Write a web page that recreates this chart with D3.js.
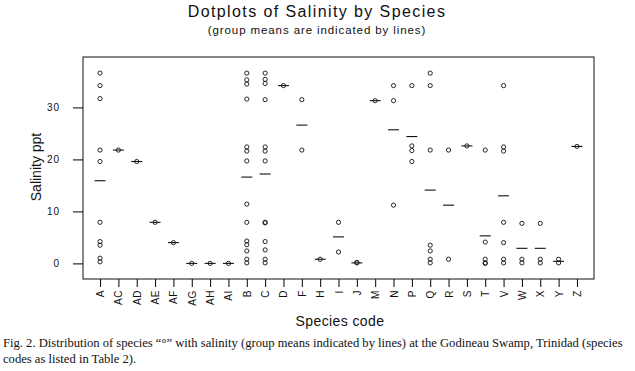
<!DOCTYPE html>
<html>
<head>
<meta charset="utf-8">
<script src="https://cdn.jsdelivr.net/npm/d3@7"></script>
<style>
  body { margin: 0; background: #fff; }
  svg { display: block; }
  text { font-family: "Liberation Sans", Arial, sans-serif; fill: #111; }
  .caption { font-family: "Liberation Serif", "Times New Roman", serif; }
</style>
</head>
<body>
<div id="chart"></div>
<script>
// Species codes on the x axis
var species = ["A","AC","AD","AE","AF","AG","AH","AI","B","C","D","F","H","I","J",
               "M","N","P","Q","R","S","T","V","W","X","Y","Z"]

// Salinity readings (ppt) for each species, same order as above
var salinity = [
  [36.6, 34.2, 31.7, 21.8, 19.6, 7.9, 4.2, 3.5, 1.0, 0.3],          // A
  [21.8],                                                            // AC
  [19.6],                                                            // AD
  [7.9],                                                             // AE
  [4.0],                                                             // AF
  [0.0],                                                             // AG
  [0.0],                                                             // AH
  [0.0],                                                             // AI
  [36.6, 35.3, 34.5, 31.6, 22.4, 21.6, 19.7, 11.4, 7.9, 4.3, 3.6, 2.4, 0.8, 0.1], // B
  [36.6, 35.4, 34.6, 31.5, 22.4, 21.6, 19.7, 7.9, 7.8, 4.2, 2.6, 0.8, 0.1],       // C
  [34.2],                                                            // D
  [31.5, 21.8],                                                      // F
  [0.8],                                                             // H
  [7.9, 2.2],                                                        // I
  [0.2, 0.1],                                                        // J
  [31.3],                                                            // M
  [34.2, 31.3, 11.2],                                                // N
  [34.2, 22.6, 21.7, 19.6],                                          // P
  [36.6, 34.2, 21.8, 3.5, 2.4, 0.8, 0.1],                            // Q
  [21.8, 0.8],                                                       // R
  [22.6],                                                            // S
  [21.8, 4.1, 0.8, 0.1, 0.0],                                        // T
  [34.2, 22.4, 21.6, 7.9, 4.0, 0.8, 0.1],                            // V
  [7.7, 0.8, 0.1],                                                   // W
  [7.7, 0.8, 0.1],                                                   // X
  [0.8, 0.1],                                                        // Y
  [22.5]                                                             // Z
]

// Group means as drawn by the short horizontal lines
var groupMeans = [15.9, 21.8, 19.6, 7.9, 4.0, 0.0, 0.0, 0.0, 16.6, 17.2, 34.2, 26.6, 0.8, 5.1, 0.1,
                  31.3, 25.7, 24.4, 14.1, 11.2, 22.6, 5.3, 13.0, 2.9, 2.9, 0.4, 22.5]

var yTicks = [0, 10, 20, 30]

var width = 635, height = 371
var plot = {left: 83, right: 594, top: 57, bottom: 279}

var svg = d3.select('#chart').append('svg')
  .attr('width', width)
  .attr('height', height)

// Scales
var xScale = d3.scalePoint()
  .domain(species)
  .range([plot.left, plot.right])
  .padding(0.93)

var yScale = d3.scaleLinear()
  .domain([-3.0, 39.7])
  .range([plot.bottom, plot.top])

// Titles
svg.append('text')
  .attr('x', 317).attr('y', 17)
  .attr('text-anchor', 'middle')
  .style('font-size', '16px')
  .style('letter-spacing', '1.4px')
  .text('Dotplots of Salinity by Species')

svg.append('text')
  .attr('x', 317).attr('y', 34)
  .attr('text-anchor', 'middle')
  .style('font-size', '11.5px')
  .style('letter-spacing', '0.9px')
  .text('(group means are indicated by lines)')

// Frame
svg.append('rect')
  .attr('x', plot.left).attr('y', plot.top)
  .attr('width', plot.right - plot.left)
  .attr('height', plot.bottom - plot.top)
  .attr('fill', 'none')
  .attr('stroke', '#111')
  .attr('stroke-width', 1)

// Y axis
var yAxis = svg.append('g')
  .attr('transform', 'translate(' + plot.left + ',0)')
  .call(d3.axisLeft(yScale).tickValues(yTicks).tickSize(10).tickPadding(13))
yAxis.select('.domain').remove()
yAxis.selectAll('text').style('font-size', '10px').style('letter-spacing', '1px')
  .style('font-family', '"Liberation Sans", Arial, sans-serif')

// X axis with vertical labels
var xAxis = svg.append('g')
  .attr('transform', 'translate(0,' + plot.bottom + ')')
  .call(d3.axisBottom(xScale).tickSize(8))
xAxis.select('.domain').remove()
xAxis.selectAll('text')
  .attr('transform', 'rotate(-90)')
  .attr('text-anchor', 'end')
  .attr('x', -11)
  .attr('y', 0)
  .attr('dy', '0.35em')
  .style('font-size', '10px')
  .style('letter-spacing', '0.6px')
  .style('font-family', '"Liberation Sans", Arial, sans-serif')

// Axis titles
svg.append('text')
  .attr('transform', 'translate(41,167) rotate(-90)')
  .attr('text-anchor', 'middle')
  .style('font-size', '14px')
  .text('Salinity ppt')

svg.append('text')
  .attr('x', 340).attr('y', 326)
  .attr('text-anchor', 'middle')
  .style('font-size', '14px')
  .style('letter-spacing', '0.4px')
  .text('Species code')

// Points
var pts = []
species.forEach(function(s, i) {
  salinity[i].forEach(function(v) { pts.push({s: s, v: v}) })
})

svg.append('g').selectAll('circle')
  .data(pts)
  .enter().append('circle')
  .attr('cx', function(d) { return xScale(d.s) })
  .attr('cy', function(d) { return yScale(d.v) })
  .attr('r', 2.1)
  .attr('fill', 'none')
  .attr('stroke', '#111')
  .attr('stroke-width', 0.9)

// Mean lines
svg.append('g').selectAll('line')
  .data(groupMeans)
  .enter().append('line')
  .attr('x1', function(d, i) { return xScale(species[i]) - 5.5 })
  .attr('x2', function(d, i) { return xScale(species[i]) + 5.5 })
  .attr('y1', function(d) { return yScale(d) })
  .attr('y2', function(d) { return yScale(d) })
  .attr('stroke', '#111')
  .attr('stroke-width', 1.1)

// Figure caption
var caption = svg.append('g')
caption.append('text')
  .attr('class', 'caption')
  .attr('x', 3).attr('y', 347)
  .style('font-size', '12.6px')
  .text('Fig. 2. Distribution of species \u201C\u00B0\u201D with salinity (group means indicated by lines) at the Godineau Swamp, Trinidad (species')
caption.append('text')
  .attr('class', 'caption')
  .attr('x', 3).attr('y', 363)
  .style('font-size', '12.6px')
  .text('codes as listed in Table 2).')
</script>
</body>
</html>
